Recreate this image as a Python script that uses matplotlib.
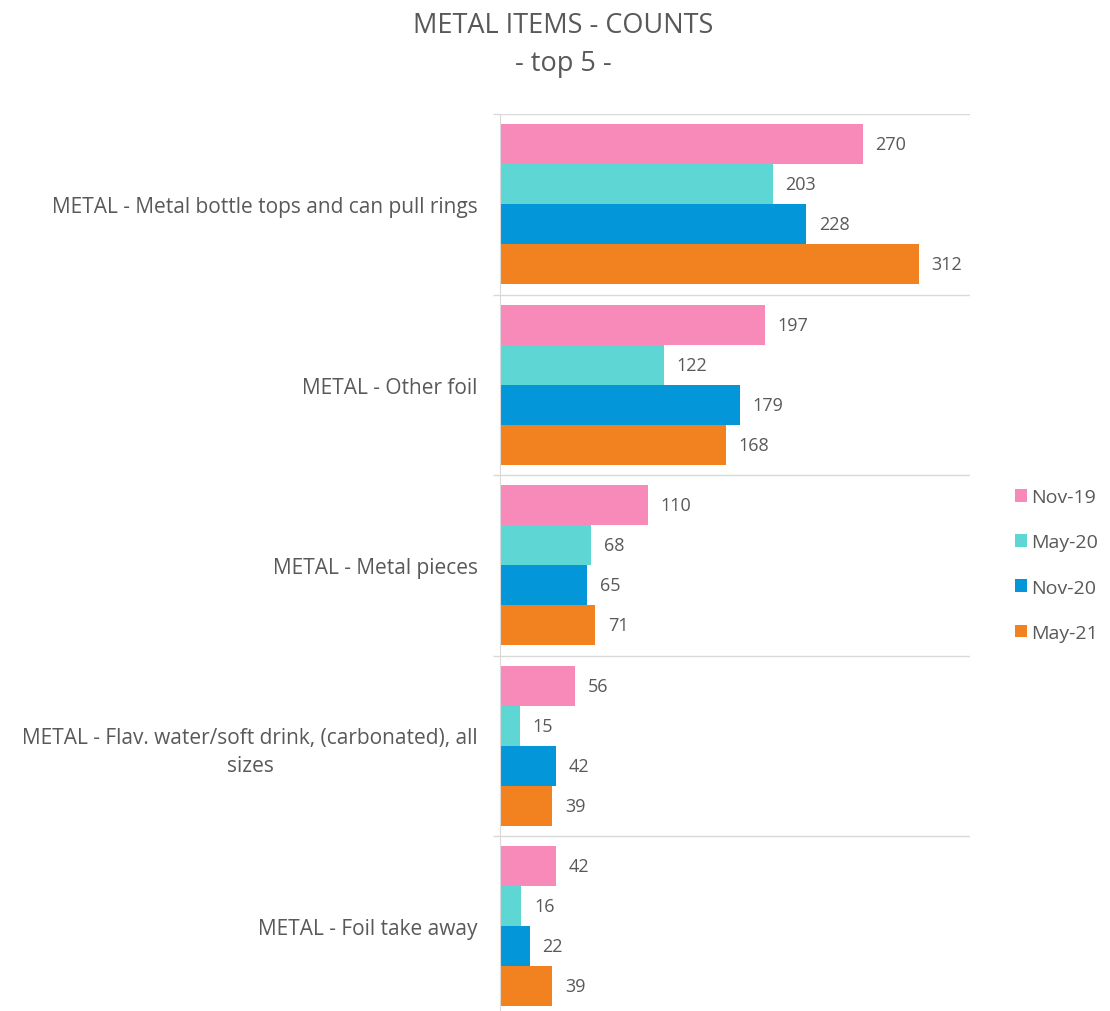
import matplotlib
matplotlib.use("Agg")
import matplotlib.pyplot as plt
import numpy as np
from matplotlib.patches import Patch

categories = [
    "METAL - Metal bottle tops and can pull rings",
    "METAL - Other foil",
    "METAL - Metal pieces",
    "METAL - Flav. water/soft drink, (carbonated), all\nsizes",
    "METAL - Foil take away",
]
series_names = ["Nov-19", "May-20", "Nov-20", "May-21"]
nov19 = [270, 197, 110, 56, 42]
may20 = [203, 122, 68, 15, 16]
nov20 = [228, 179, 65, 42, 22]
may21 = [312, 168, 71, 39, 39]
values = [nov19, may20, nov20, may21]
colors = ["#F78AB9", "#5ED6D4", "#0397DA", "#F28220"]

plt.rcParams['font.family'] = ['Open Sans', 'DejaVu Sans']
txt = "#595959"
grid = "#D9D9D9"

fig = plt.figure(figsize=(11.1, 10.12), dpi=100)
ax = fig.add_axes([500/1110, -5.5/1012, 470/1110, 902.5/1012])

n = len(categories)
bh = 40/180.5
y = np.arange(n)
for k, (vals, c) in enumerate(zip(values, colors)):
    pos = y - 1.5*bh + k*bh
    bars = ax.barh(pos, vals, height=bh, color=c, edgecolor='none', zorder=3)
    ax.bar_label(bars, labels=[str(v) for v in vals], padding=9, color=txt, fontsize=13)

ax.set_xlim(0, 350)
ax.set_ylim(n - 0.5, -0.5)
ax.set_yticks(y)
ax.set_yticklabels(categories, fontsize=15, color=txt, multialignment='center', linespacing=1.4)
ax.set_yticks(np.arange(n + 1) - 0.5, minor=True)
ax.tick_params(axis='y', which='major', length=0, pad=16)
ax.tick_params(axis='y', which='minor', length=5, color=grid, width=1)
ax.set_xticks([])
ax.grid(True, axis='y', which='minor', color=grid, linewidth=1, zorder=0)
for s in ['top', 'right', 'bottom']:
    ax.spines[s].set_visible(False)
ax.spines['left'].set_color(grid)
ax.spines['left'].set_zorder(4)

fig.text(563/1110, 1 - 26/1012, "METAL ITEMS - COUNTS", ha='center', va='center', fontsize=19.5, color=txt)
fig.text(563/1110, 1 - 64/1012, "- top 5 -", ha='center', va='center', fontsize=19.5, color=txt)

handles = [Patch(facecolor=c, edgecolor='none') for c in colors]
fig.legend(handles, series_names, loc='center left', bbox_to_anchor=(997/1110, 1 - 566/1012),
           frameon=False, fontsize=14, labelcolor=txt, handlelength=0.65, handleheight=0.65,
           handletextpad=0.2, labelspacing=1.4)

fig.savefig("out.png", dpi=100)
